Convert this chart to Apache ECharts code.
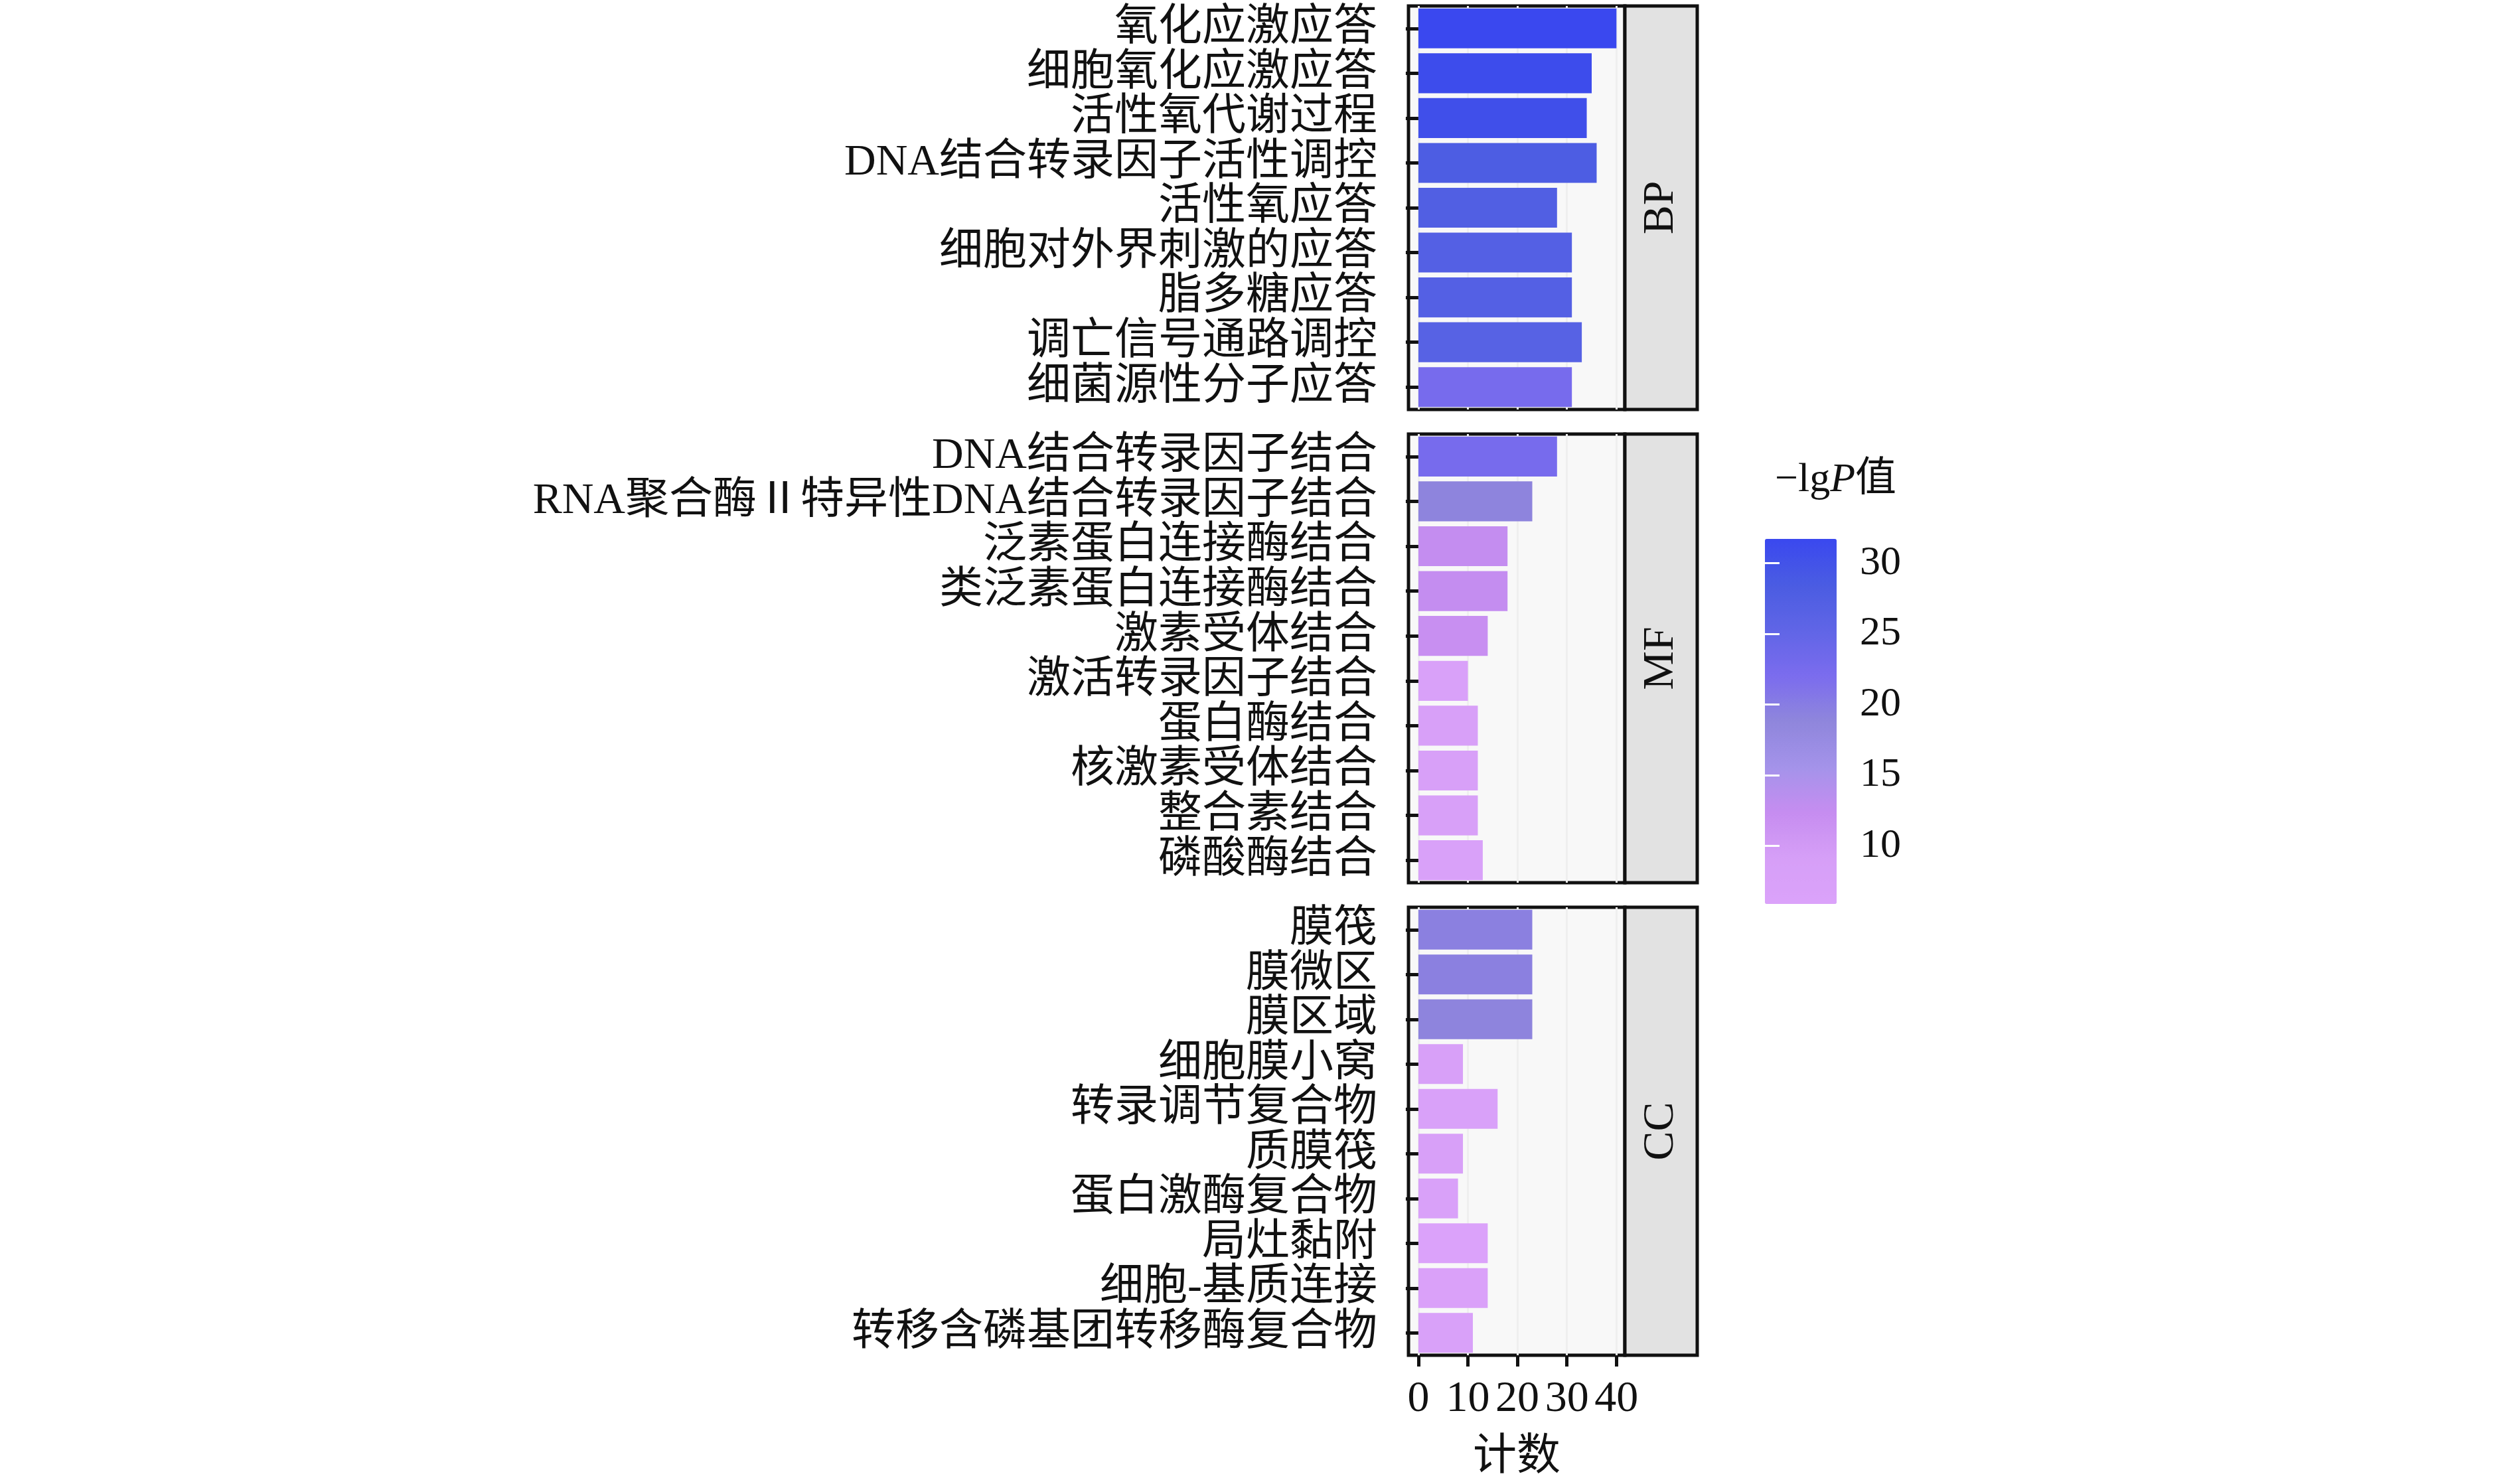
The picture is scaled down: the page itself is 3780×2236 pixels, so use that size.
<!DOCTYPE html>
<html>
<head>
<meta charset="utf-8">
<script src="https://cdn.jsdelivr.net/npm/echarts@6/dist/echarts.min.js"></script>
<style>
html, body { margin: 0; padding: 0; background: #ffffff; }
#chart { width: 3780px; height: 2236px; }
</style>
</head>
<body>
<div id="chart"></div>
<script>
// GO 富集分析数据
var groupNames = ['BP', 'MF', 'CC'];

var bpTerms = ['氧化应激应答', '细胞氧化应激应答', '活性氧代谢过程', 'DNA结合转录因子活性调控', '活性氧应答',
	'细胞对外界刺激的应答', '脂多糖应答', '调亡信号通路调控', '细菌源性分子应答'];
var bpCount = [40, 35, 34, 36, 28, 31, 31, 33, 31];
var bpLgp = [31.7, 31, 30.5, 28, 27.5, 27, 27, 26.5, 22.5];

var mfTerms = ['DNA结合转录因子结合', 'RNA聚合酶Ⅱ特异性DNA结合转录因子结合', '泛素蛋白连接酶结合', '类泛素蛋白连接酶结合',
	'激素受体结合', '激活转录因子结合', '蛋白酶结合', '核激素受体结合', '整合素结合', '磷酸酶结合'];
var mfCount = [28, 23, 18, 18, 14, 10, 12, 12, 12, 13];
var mfLgp = [22.5, 19, 12.5, 12.5, 12, 7, 8, 8, 8, 7.5];

var ccTerms = ['膜筏', '膜微区', '膜区域', '细胞膜小窝', '转录调节复合物', '质膜筏', '蛋白激酶复合物', '局灶黏附',
	'细胞-基质连接', '转移含磷基团转移酶复合物'];
var ccCount = [23, 23, 23, 9, 16, 9, 8, 14, 14, 11];
var ccLgp = [19.5, 19.5, 19, 8, 7.5, 8, 7, 6, 6.5, 7];

var countTicks = [0, 10, 20, 30, 40];
var lgpTicks = [10, 15, 20, 25, 30];
var lgpMin = 5.9, lgpMax = 31.7;

var FONT = "'Liberation Serif', 'Noto Sans CJK SC', serif";
var FS = 66;

// 布局
var plotLeft = 2122, plotW = 326, stripW = 109;
var panels = [ { top : 9, height : 608 }, { top : 654, height : 676 }, { top : 1367, height : 675 } ];
var cbLeft = 2659, cbTop = 812, cbW = 108, cbH = 550;

var groupData = [
	[ bpTerms, bpCount, bpLgp ],
	[ mfTerms, mfCount, mfLgp ],
	[ ccTerms, ccCount, ccLgp ]
];

function buildRows(terms, counts, lgps) {
	return terms.map(function(t, i) {
		return [ counts[i], t, lgps[i] ];
	});
}

var grids = [], xAxes = [], yAxes = [], series = [], graphics = [];

groupData.forEach(function(g, k) {
	var last = k === groupData.length - 1;
	grids.push({
		left : plotLeft,
		top : panels[k].top,
		width : plotW,
		height : panels[k].height,
		show : true,
		backgroundColor : '#f8f8f8',
		borderColor : '#111111',
		borderWidth : 5
	});
	xAxes.push({
		type : 'value',
		gridIndex : k,
		min : -2,
		max : 41.7,
		axisLine : { show : false },
		axisTick : {
			show : last,
			customValues : countTicks,
			length : 17,
			lineStyle : { color : '#111', width : 5 }
		},
		axisLabel : {
			show : last,
			customValues : countTicks,
			margin : 34,
			fontFamily : FONT,
			fontSize : FS,
			color : '#111'
		},
		splitLine : {
			show : true,
			lineStyle : { color : '#efefef', width : 3 }
		},
		name : last ? '计数' : '',
		nameLocation : 'middle',
		nameGap : 122,
		nameTextStyle : { fontFamily : FONT, fontSize : FS, color : '#111' }
	});
	yAxes.push({
		type : 'category',
		gridIndex : k,
		data : g[0],
		inverse : true,
		axisLine : { show : false },
		axisTick : {
			show : true,
			alignWithLabel : true,
			interval : 0,
			length : 19,
			lineStyle : { color : '#111', width : 5 }
		},
		axisLabel : {
			interval : 0,
			margin : 47,
			padding : [ 12, 0, 0, 0 ],
			fontFamily : FONT,
			fontSize : FS,
			color : '#111'
		},
		splitLine : { show : false }
	});
	series.push({
		type : 'bar',
		xAxisIndex : k,
		yAxisIndex : k,
		barCategoryGap : '11%',
		encode : { x : 0, y : 1 },
		data : buildRows(g[0], g[1], g[2])
	});
	// 分面标签
	graphics.push({
		type : 'rect',
		shape : { x : plotLeft + plotW, y : panels[k].top, width : stripW, height : panels[k].height },
		style : { fill : '#e2e2e2', stroke : '#111', lineWidth : 5 },
		z : 10
	});
	graphics.push({
		type : 'text',
		x : plotLeft + plotW + stripW / 2,
		y : panels[k].top + panels[k].height / 2,
		rotation : Math.PI / 2,
		style : {
			text : groupNames[k],
			fontFamily : FONT,
			fontSize : FS,
			fill : '#111',
			align : 'center',
			verticalAlign : 'middle'
		},
		z : 11
	});
});

// 色条刻度
grids.push({ left : cbLeft, top : cbTop, width : cbW, height : cbH, show : false });
xAxes.push({ type : 'value', gridIndex : 3, show : false, min : 0, max : 1 });
yAxes.push({
	type : 'value',
	gridIndex : 3,
	position : 'right',
	min : lgpMin,
	max : lgpMax,
	z : 20,
	axisLine : { show : false },
	axisTick : { show : true, inside : true, customValues : lgpTicks, length : 22, lineStyle : { color : '#ffffff', width : 3 } },
	axisLabel : { customValues : lgpTicks, margin : 35, fontFamily : FONT, fontSize : 62, color : '#111' },
	splitLine : { show : false }
});
yAxes.push({
	type : 'value',
	gridIndex : 3,
	position : 'left',
	min : lgpMin,
	max : lgpMax,
	z : 20,
	axisLine : { show : false },
	axisTick : { show : true, inside : true, customValues : lgpTicks, length : 22, lineStyle : { color : '#ffffff', width : 3 } },
	axisLabel : { show : false },
	splitLine : { show : false }
});

var chart = echarts.init(document.getElementById('chart'));
chart.setOption({
	backgroundColor : '#ffffff',
	animation : false,
	title : {
		left : 2669,
		top : 688,
		text : '{n|−lg}{i|P}{n|值}',
		textStyle : {
			fontWeight : 'normal',
			rich : {
				n : { fontFamily : FONT, fontSize : 62, fontWeight : 'normal', color : '#111' },
				i : { fontFamily : FONT, fontSize : 62, fontWeight : 'normal', fontStyle : 'italic', color : '#111' }
			}
		}
	},
	visualMap : {
		type : 'continuous',
		dimension : 2,
		seriesIndex : [ 0, 1, 2 ],
		min : lgpMin,
		max : lgpMax,
		left : cbLeft,
		top : cbTop,
		padding : 0,
		itemWidth : cbW,
		itemHeight : cbH,
		calculable : false,
		hoverLink : false,
		z : 1,
		inRange : {
			color : [ '#dba2fa', '#d69ff7', '#c68df0', '#a493ea', '#8f86dc', '#7b6cee', '#6065e6', '#4a5ce2', '#3a48ef' ]
		}
	},
	grid : grids,
	xAxis : xAxes,
	yAxis : yAxes,
	series : series,
	graphic : graphics
});
</script>
</body>
</html>
